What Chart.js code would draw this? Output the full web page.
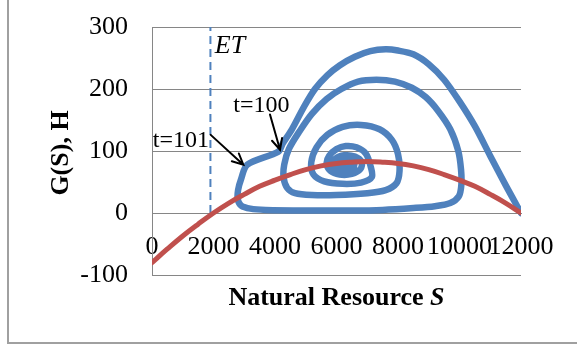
<!DOCTYPE html>
<html><head><meta charset="utf-8">
<style>html,body{margin:0;padding:0;background:#fff;}</style>
<script src="https://cdn.jsdelivr.net/npm/chart.js@4.4.1/dist/chart.umd.min.js"></script>
</head><body>
<canvas id="c" width="577" height="349"></canvas>
<script>
const xTicks = [0, 2000, 4000, 6000, 8000, 10000, 12000];
const yTicks = [-100, 0, 100, 200, 300];
const xTitleMain = 'Natural Resource ';
const xTitleVar = 'S';
const yTitle = 'G(S), H';

// G(S) growth curve
const growthS = [0,500,1000,1500,2000,2500,3000,3500,4000,4500,5000,5500,6000,6500,7000,7500,8000,8500,9000,9500,10000,10500,11000,11500,12000];
const growthG = [-80,-58,-37,-18,0,16,30,43,53,62,70,76,80,82,83,82,80,76,70,62,53,43,30,16,0];

// harvest trajectory (S, H)
const pathS = [12000,11500,11000,10500,10000,9500,9000,8500,8000,7600,7100,6600,6100,5700,5300,4950,4550,4250,4110,3100,2900,2800,2790,2900,3200,3700,5000,6500,7500,8500,9200,9700,9980,10060,10050,9960,9700,9300,8900,8450,7900,7300,6700,6160,5680,5200,4800,4450,4300,4280,4400,4650,5200,6000,7000,7600,7950,8050,8000,7800,7400,6800,6200,5700,5350,5180,5250,5600,6200,6800,7150,7100,6950,6650,6300,6000,5760,5680,5800,6100,6500,6780,6820,6600,6250,5950,5850,6000,6300,6550,6560,6300,6080,6150,6380,6300,6220];
const pathH = [0,45,92,140,180,215,240,256,262,264,261,252,238,222,200,172,135,112,99,78,55,37,22,12,7,5,4,4,5,8,11,16,27,45,70,100,135,165,187,202,212,215,212,200,184,160,132,103,78,57,40,32,29,29,32,37,48,68,95,118,135,142,139,126,106,82,62,51,47,49,58,77,96,106,108,103,92,80,68,62,63,71,82,91,93,87,77,69,67,73,83,88,82,74,77,84,80];

// ET threshold
const etS = [1900, 1900];
const etH = [0, 300];

// text notes (data coordinates)
const noteText = ['ET', 't=100', 't=101'];
const noteS = [2537, 3560, 937];
const noteH = [258, 163, 107];
const noteFont = ['italic 26px "Liberation Serif"', '24px "Liberation Serif"', '24px "Liberation Serif"'];

// arrows (data coordinates)
const arrowFromS = [3837, 1909];
const arrowFromH = [159, 126];
const arrowToS = [4163, 2970];
const arrowToH = [102, 78];

const toXY = (xs, ys) => xs.map((v, i) => ({x: v, y: ys[i]}));

const overlay = {
  id: 'overlay',
  beforeDraw(chart) {
    const ctx = chart.ctx;
    ctx.save();
    ctx.fillStyle = '#fff';
    ctx.fillRect(0, 0, chart.width, chart.height);
    ctx.strokeStyle = '#a0a0a0';
    ctx.lineWidth = 2;
    ctx.beginPath();
    ctx.moveTo(8, 0); ctx.lineTo(8, 343); ctx.lineTo(chart.width, 343);
    ctx.stroke();
    ctx.restore();
  },
  afterDraw(chart) {
    const {ctx, scales: {x, y}, chartArea} = chart;
    ctx.save();
    ctx.fillStyle = '#000';
    // y title
    ctx.save();
    ctx.font = 'bold 26px "Liberation Serif"';
    ctx.translate(68, (chartArea.top + chartArea.bottom) / 2 + 2);
    ctx.rotate(-Math.PI / 2);
    ctx.textAlign = 'center';
    ctx.textBaseline = 'alphabetic';
    ctx.fillText(yTitle, 0, 0);
    ctx.restore();
    // x title
    ctx.font = 'bold 26px "Liberation Serif"';
    const w1 = ctx.measureText(xTitleMain).width;
    ctx.font = 'bold italic 26px "Liberation Serif"';
    const w2 = ctx.measureText(xTitleVar).width;
    const cx = (chartArea.left + chartArea.right) / 2;
    let sx = cx - (w1 + w2) / 2;
    ctx.textAlign = 'left';
    ctx.textBaseline = 'alphabetic';
    ctx.font = 'bold 26px "Liberation Serif"';
    ctx.fillText(xTitleMain, sx, 305);
    ctx.font = 'bold italic 26px "Liberation Serif"';
    ctx.fillText(xTitleVar, sx + w1, 305);
    // notes
    ctx.textAlign = 'center';
    noteText.forEach((t, i) => {
      ctx.font = noteFont[i];
      ctx.fillText(t, x.getPixelForValue(noteS[i]), y.getPixelForValue(noteH[i]));
    });
    // arrows
    ctx.strokeStyle = '#000';
    ctx.lineWidth = 2;
    ctx.lineCap = 'round';
    arrowFromS.forEach((s, i) => {
      const x0 = x.getPixelForValue(s), y0 = y.getPixelForValue(arrowFromH[i]);
      const x1 = x.getPixelForValue(arrowToS[i]), y1 = y.getPixelForValue(arrowToH[i]);
      const a = Math.atan2(y1 - y0, x1 - x0);
      const L = 12, sp = 0.45;
      ctx.beginPath();
      ctx.moveTo(x0, y0); ctx.lineTo(x1, y1);
      ctx.moveTo(x1 - L * Math.cos(a - sp), y1 - L * Math.sin(a - sp));
      ctx.lineTo(x1, y1);
      ctx.lineTo(x1 - L * Math.cos(a + sp), y1 - L * Math.sin(a + sp));
      ctx.stroke();
    });
    ctx.restore();
  }
};

const tickFont = {family: '"Liberation Serif"', size: 26};

new Chart(document.getElementById('c'), {
  type: 'scatter',
  data: {
    datasets: [
      {label: 'G(S)', data: toXY(growthS, growthG), showLine: true, borderColor: '#C0504D', borderWidth: 5, pointRadius: 0, tension: 0.4, borderCapStyle: 'round'},
      {label: 'H', data: toXY(pathS, pathH), showLine: true, borderColor: '#4F81BD', borderWidth: 6.5, pointRadius: 0, tension: 0.3, borderJoinStyle: 'round', borderCapStyle: 'round'},
      {label: 'ET', data: toXY(etS, etH), showLine: true, borderColor: '#4F81BD', borderWidth: 2, borderDash: [8, 5], pointRadius: 0}
    ]
  },
  options: {
    responsive: false,
    animation: false,
    devicePixelRatio: 1,
    layout: {padding: {left: 0, right: 56, top: 27, bottom: 74}},
    plugins: {legend: {display: false}, tooltip: {enabled: false}},
    scales: {
      x: {
        type: 'linear', position: {y: 0}, min: 0, max: 12000,
        afterBuildTicks: s => { s.ticks = xTicks.map(v => ({value: v})); },
        afterFit: s => { s.paddingTop = 0; s.paddingBottom = 0; },
        grid: {display: false, drawTicks: false},
        border: {display: true, color: '#868686', width: 1},
        ticks: {autoSkip: false, maxRotation: 0, minRotation: 0, padding: 19, color: '#000', font: tickFont, callback: v => String(v)}
      },
      y: {
        type: 'linear', position: 'left', min: -100, max: 300,
        afterBuildTicks: s => { s.ticks = yTicks.map(v => ({value: v})); },
        afterFit: s => { s.width = 152; s.paddingTop = 0; s.paddingBottom = 0; },
        grid: {color: '#868686', lineWidth: 1, drawTicks: false},
        border: {display: true, color: '#868686', width: 1},
        ticks: {padding: 24, color: '#000', font: tickFont, callback: v => String(v)}
      }
    }
  },
  plugins: [overlay]
});
</script>
</body></html>
